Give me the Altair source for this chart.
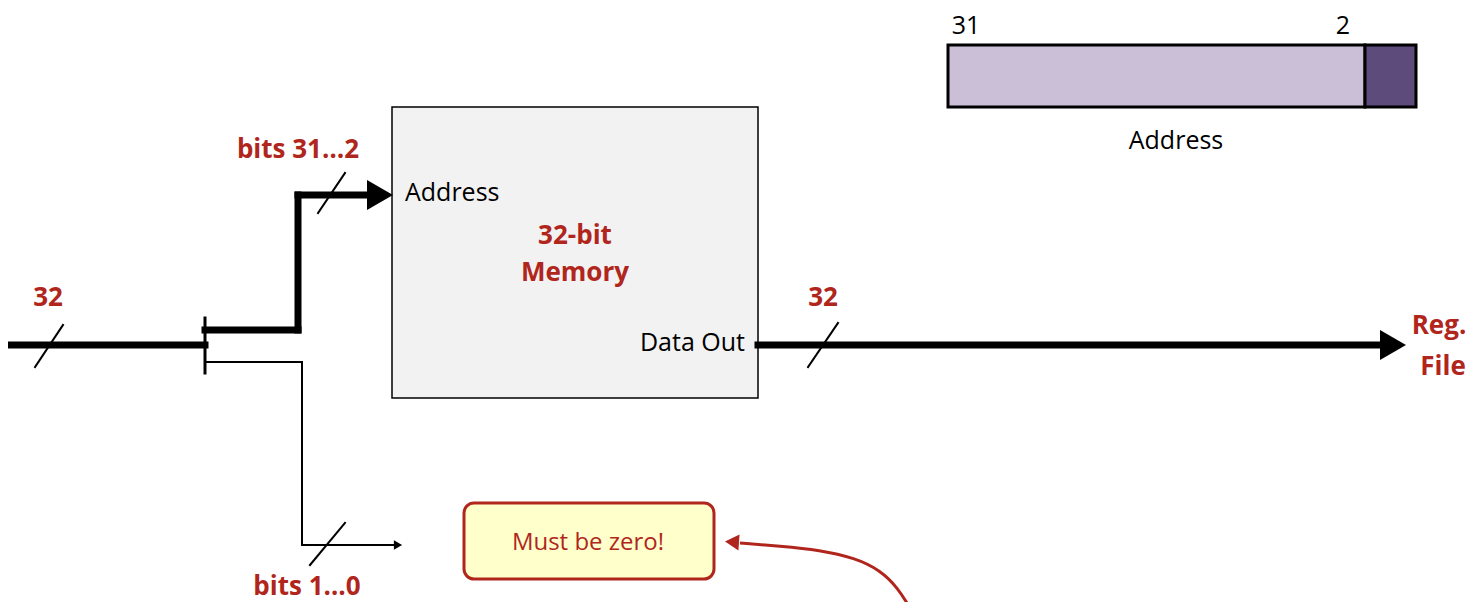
import pandas as pd
import altair as alt

RED = "#b0261c"
FONT = "Open Sans"

# straight wire segments (pixel coordinates of the slide)
thick_x = [5, 205, 298, 298, 758]
thick_y = [345, 330, 330, 195, 345]
thick_x2 = [205, 298, 298, 368, 1378]
thick_y2 = [345, 330, 195, 195, 345]

thin_x = [205, 302, 302]
thin_y = [362, 362, 545]
thin_x2 = [302, 302, 395]
thin_y2 = [362, 545, 545]

# bus-width slashes
slash_x = [35, 318, 808, 310]
slash_y = [367, 213, 367, 565]
slash_x2 = [63, 345, 838, 345]
slash_y2 = [325, 173, 323, 523]

# arrow heads
head_x = [380, 1393, 398]
head_y = [195, 345, 545]
head_size = [900, 900, 90]

# curved pointer to the callout
curve_x = [910, 898, 880, 855, 820, 780, 740]
curve_y = [608, 588, 570, 558, 550, 546, 543]

# boxes
box_x = [392, 948, 1365]
box_y = [107, 45, 45]
box_x2 = [758, 1365, 1416]
box_y2 = [398, 107, 107]
box_fill = ["#f2f2f2", "#cbbfd8", "#5d4b7b"]
box_sw = [1.5, 3, 3]

# texts
red_bold = ["32", "bits 31…2", "32", "Reg.", "File", "bits 1…0", "32-bit", "Memory"]
red_bold_x = [48, 298, 823, 1439, 1443, 307, 575, 575]
red_bold_y = [298, 150, 298, 326, 367, 587, 236, 273]

black_txt = ["Address", "Data Out", "31", "2", "Address"]
black_x = [405, 745, 966, 1343, 1176]
black_y = [193, 343, 26, 26, 141]
black_align = ["left", "right", "center", "center", "center"]

xs = alt.Scale(domain=[8, 1470], nice=False, zero=False)
ys = alt.Scale(domain=[8, 602], nice=False, zero=False, reverse=True)
X = lambda f: alt.X(f, type="quantitative", scale=xs, axis=None)
Y = lambda f: alt.Y(f, type="quantitative", scale=ys, axis=None)


def segs(x, y, x2, y2, w, color="black"):
    df = pd.DataFrame({"x": x, "y": y, "x2": x2, "y2": y2})
    return alt.Chart(df).mark_rule(strokeWidth=w, color=color, strokeCap="square").encode(
        x=X("x"), y=Y("y"), x2="x2", y2="y2")


boxes = alt.Chart(pd.DataFrame({"x": box_x, "y": box_y, "x2": box_x2, "y2": box_y2,
                                "f": box_fill, "sw": box_sw})).mark_rect(stroke="black").encode(
    x=X("x"), y=Y("y"), x2="x2", y2="y2",
    fill=alt.Fill("f:N", scale=None), strokeWidth=alt.StrokeWidth("sw:Q", scale=None))

callout = alt.Chart(pd.DataFrame({"x": [464], "y": [503], "x2": [714], "y2": [579]})).mark_rect(
    fill="#ffffcc", stroke=RED, strokeWidth=3, cornerRadius=10).encode(
    x=X("x"), y=Y("y"), x2="x2", y2="y2")

callout_txt = alt.Chart(pd.DataFrame({"x": [588], "y": [543], "t": ["Must be zero!"]})).mark_text(
    color=RED, font=FONT, fontSize=24).encode(x=X("x"), y=Y("y"), text="t")

bar = segs([205], [318], [205], [373], 3)
heads = alt.Chart(pd.DataFrame({"x": head_x, "y": head_y, "s": head_size})).mark_point(
    shape="triangle-right", filled=True, color="black", opacity=1).encode(
    x=X("x"), y=Y("y"), size=alt.Size("s:Q", scale=None))

curve = alt.Chart(pd.DataFrame({"x": curve_x, "y": curve_y, "o": range(len(curve_x))})).mark_line(
    color=RED, strokeWidth=3, interpolate="basis").encode(x=X("x"), y=Y("y"), order="o")
curve_head = alt.Chart(pd.DataFrame({"x": [732], "y": [542]})).mark_point(
    shape="triangle-left", filled=True, color=RED, opacity=1, size=260, angle=4).encode(
    x=X("x"), y=Y("y"))

rb = alt.Chart(pd.DataFrame({"x": red_bold_x, "y": red_bold_y, "t": red_bold})).mark_text(
    color=RED, font=FONT, fontSize=26, fontWeight="bold").encode(x=X("x"), y=Y("y"), text="t")

bt = alt.Chart(pd.DataFrame({"x": black_x, "y": black_y, "t": black_txt, "a": black_align}))
bt_layers = [bt.transform_filter(alt.datum.a == a).mark_text(
    color="black", font=FONT, fontSize=25, align=a).encode(x=X("x"), y=Y("y"), text="t")
    for a in ["left", "right", "center"]]

chart = alt.layer(
    boxes, callout, callout_txt,
    segs(thick_x, thick_y, thick_x2, thick_y2, 7),
    segs(thin_x, thin_y, thin_x2, thin_y2, 2),
    segs(slash_x, slash_y, slash_x2, slash_y2, 2),
    bar, heads, curve, curve_head, rb, *bt_layers,
).properties(width=1462, height=594, padding=0, autosize="none", background="white"
).configure_view(stroke=None)

chart.save("out.html", embed_options={"renderer": "svg", "actions": False})
